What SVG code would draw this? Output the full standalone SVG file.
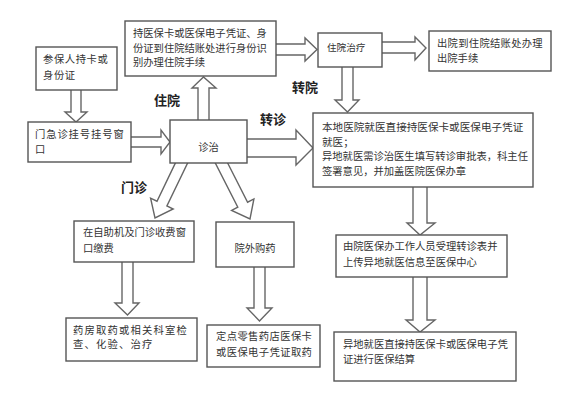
<svg xmlns="http://www.w3.org/2000/svg" width="567" height="400" viewBox="0 0 567 400">
<style>
.bx{fill:#fff;stroke:#555;stroke-width:1.4}
.ar{fill:#fff;stroke:#666;stroke-width:1.4;stroke-linejoin:miter}
text{font-family:"Noto Sans CJK SC","Noto Sans",sans-serif;fill:#333;font-size:10.3px}
.lb{font-size:13px;font-weight:bold;fill:#222}
</style>
<rect width="567" height="400" fill="#fff"/>
<g id="connectors">
<polygon class="ar" points="71,88 81,88 81,112 87,112 76,122 65,112 71,112"/>
<polygon class="ar" points="129,137 161,137 161,130 170,142 161,154 161,147 129,147"/>
<polygon class="ar" points="198,122 198,88 192,88 203.5,77 216,88 209,88 209,122"/>
<polygon class="ar" points="274,44 305,44 305,38 317,49.5 305,61 305,55 274,55"/>
<polygon class="ar" points="380,42 415,42 415,37 426,48 415,60 415,53 380,53"/>
<polygon class="ar" points="342,65 353,65 353,100 359,100 347.5,112 335,100 342,100"/>
<polygon class="ar" points="245,139 296,139 296,130 313,148 296,165 296,157 245,157"/>
<polygon class="ar" points="178.2,157.1 157,201.2 150.6,198.2 155,218 173.2,209 166.9,206 188.2,161.9"/>
<polygon class="ar" points="224.6,157 247.6,202.2 253.9,199 250,219 231.6,210.4 237.8,207.2 214.8,162"/>
<polygon class="ar" points="122,260 133,260 133,303 139,303 127.5,315 115,303 122,303"/>
<polygon class="ar" points="254,265 265,265 265,308 272,308 259.5,321 247,308 254,308"/>
<polygon class="ar" points="413,185 427,185 427,223 435,223 420,235 407,223 413,223"/>
<polygon class="ar" points="413,275 427,275 427,320 435,320 420,332 406,320 413,320"/>
</g>
<g id="n_canbao"><rect class="bx" x="36" y="47" width="81" height="43"/>
<text x="43" y="63" style="letter-spacing:0.6px">参保人持卡或</text><text x="43" y="79" style="letter-spacing:0.6px">身份证</text></g>
<g id="n_guahao"><rect class="bx" x="28" y="122" width="103" height="40"/>
<text x="35" y="138" style="letter-spacing:0.9px">门急诊挂号挂号窗</text><text x="35" y="153">口</text></g>
<g id="n_zhuyuan_shouxu"><rect class="bx" x="125" y="21" width="151" height="55"/>
<text x="133" y="37">持医保卡或医保电子凭证、身</text><text x="133" y="52">份证到住院结账处进行身份识</text><text x="133" y="66">别办理住院手续</text></g>
<g id="n_zhenzhi"><rect class="bx" x="170" y="120" width="77" height="43"/>
<text x="208.5" y="151" text-anchor="middle">诊治</text></g>
<g id="n_zhuyuan"><rect class="bx" x="318" y="33" width="64" height="34"/>
<text x="327" y="51" style="font-size:9.6px">住院治疗</text></g>
<g id="n_chuyuan"><rect class="bx" x="429" y="31" width="122" height="40"/>
<text x="437" y="47" style="letter-spacing:0.3px">出院到住院结账处办理</text><text x="437" y="62">出院手续</text></g>
<g id="n_zhuanzhen"><rect class="bx" x="313" y="113" width="220" height="74"/>
<text x="322" y="131" style="font-size:10.6px">本地医院就医直接持医保卡或医保电子凭证</text>
<text x="322" y="146" style="font-size:10.6px">就医；</text>
<text x="322" y="160">异地就医需诊治医生填写转诊审批表，科主任</text>
<text x="322" y="175">签署意见，并加盖医院医保办章</text></g>
<g id="n_jiaofei"><rect class="bx" x="74" y="221" width="120" height="41"/>
<text x="83" y="236">在自助机及门诊收费窗</text><text x="83" y="252">口缴费</text></g>
<g id="n_waigou"><rect class="bx" x="216" y="222" width="78" height="45"/>
<text x="255" y="252" text-anchor="middle">院外购药</text></g>
<g id="n_yaofang"><rect class="bx" x="66" y="318" width="131" height="43"/>
<text x="73" y="334" style="letter-spacing:1.2px">药房取药或相关科室检</text><text x="73" y="348" style="letter-spacing:1.2px">查、化验、治疗</text></g>
<g id="n_lingshou"><rect class="bx" x="207" y="325" width="113" height="42"/>
<text x="216" y="340" style="letter-spacing:0.4px">定点零售药店医保卡</text><text x="216" y="356" style="letter-spacing:0.4px">或医保电子凭证取药</text></g>
<g id="n_shouli"><rect class="bx" x="336" y="235" width="171" height="42"/>
<text x="343" y="250">由院医保办工作人员受理转诊表并</text><text x="343" y="266">上传异地就医信息至医保中心</text></g>
<g id="n_jiesuan"><rect class="bx" x="334" y="332" width="182" height="49"/>
<text x="343" y="348">异地就医直接持医保卡或医保电子凭</text><text x="343" y="363">证进行医保结算</text></g>
<g id="labels">
<text class="lb" x="154" y="105">住院</text>
<text class="lb" x="260" y="124">转诊</text>
<text class="lb" x="121" y="192">门诊</text>
<text class="lb" x="292" y="92">转院</text>
</g>
</svg>
